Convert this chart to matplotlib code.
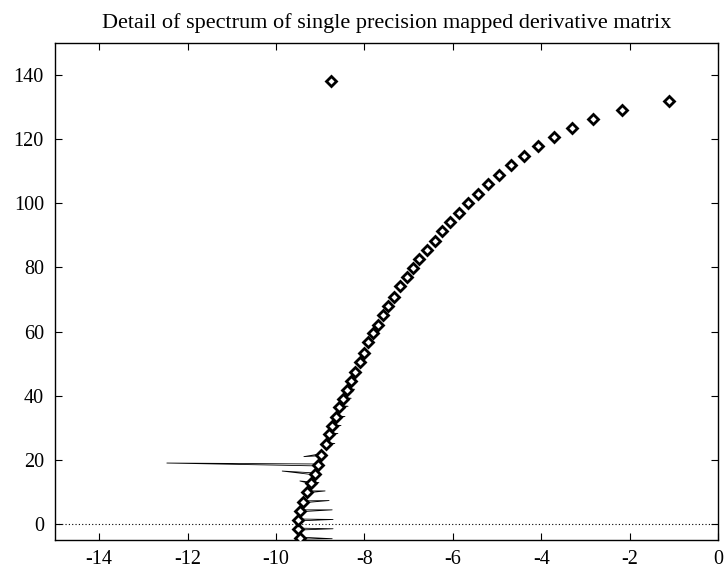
import numpy as np
import matplotlib
matplotlib.use("Agg")
import matplotlib.pyplot as plt

# --- DATA ---
# eigenvalues, sorted by imaginary part
eig_re = [-9.46, -9.50, -9.50, -9.46, -9.39, -9.30, -9.21, -9.12, -9.05, -8.98,
          -8.87, -8.80, -8.73, -8.64, -8.57, -8.48, -8.39, -8.30, -8.21, -8.10,
          -8.01, -7.92, -7.81, -7.69, -7.58, -7.47, -7.33, -7.19, -7.04, -6.90,
          -6.76, -6.58, -6.40, -6.24, -6.06, -5.86, -5.66, -5.43, -5.20, -4.95,
          -4.68, -4.39, -4.07, -3.71, -3.30, -2.83, -2.17, -1.10]
eig_im = [-4.4, -1.6, 1.25, 4.1, 6.9, 10.0, 12.8, 15.6, 18.4, 21.6,
          25.0, 28.1, 30.6, 33.4, 36.6, 39.1, 41.9, 44.7, 47.5, 50.6,
          53.4, 56.6, 59.4, 62.2, 65.3, 68.1, 70.9, 74.1, 76.9, 79.7,
          82.5, 85.3, 88.1, 91.3, 94.1, 96.9, 100.0, 102.8, 105.9, 108.8,
          111.9, 114.7, 117.8, 120.6, 123.4, 126.3, 129.1, 131.9]

# the stray eigenvalue at the top
outlier_re = [-8.76]
outlier_im = [138.1]

# thin spikes leaving the lower eigenvalues: index of the eigenvalue and tip
tine_k = [0, 1, 2, 3, 4, 5, 6, 6, 7, 8, 9, 10, 11, 12, 13, 14, 15, 16]
tine_tip_re = [-8.73, -8.71, -8.71, -8.73, -8.80, -8.89, -9.03, -9.46, -9.86,
               -12.47, -9.37, -8.67, -8.60, -8.53, -8.44, -8.37, -8.30, -8.22]
tine_tip_im = [-4.6, -1.5, 1.4, 4.4, 7.3, 10.3, 12.9, 13.4, 16.5,
               19.0, 21.0, 25.1, 28.2, 30.7, 33.5, 36.7, 39.2, 42.0]

x_ticks = [-14, -12, -10, -8, -6, -4, -2, 0]
y_ticks = [0, 20, 40, 60, 80, 100, 120, 140]
TITLE = "Detail of spectrum of single precision mapped derivative matrix"


def make_plot():
    plt.rcParams['font.family'] = ['Liberation Serif', 'DejaVu Serif']
    plt.rcParams['axes.unicode_minus'] = False

    fig = plt.figure(figsize=(7.25, 5.73), dpi=100)
    ax = fig.add_axes([0.0759, 0.0576, 0.9145, 0.8674])

    # spikes: each one is a very thin triangle from the eigenvalue to its tip
    half = 0.3
    sx, sy = [], []
    for k, tx, ty in zip(tine_k, tine_tip_re, tine_tip_im):
        bx, by = eig_re[k], eig_im[k]
        sx += [bx, tx, bx, np.nan]
        sy += [by - half, ty, by + half, np.nan]
    ax.plot(sx, sy, color='black', lw=0.6, zorder=2)

    # dotted zero line
    ax.axhline(0, color='black', lw=0.8, linestyle=(0, (1, 2)), zorder=1)

    ax.plot(eig_re, eig_im, linestyle='none', marker='D', ms=5.4,
            mfc='white', mec='black', mew=2.0, zorder=3)
    ax.plot(outlier_re, outlier_im, linestyle='none', marker='D', ms=5.4,
            mfc='white', mec='black', mew=2.0, zorder=3)

    ax.set_xlim(-15, 0)
    ax.set_ylim(-5, 150)
    ax.set_xticks(x_ticks)
    ax.set_yticks(y_ticks)
    ax.tick_params(direction='in', length=5, width=0.8, top=True, right=True,
                   labelsize=14.5)
    ax.tick_params(axis='y', pad=8)
    ax.tick_params(axis='x', pad=7)
    for s in ax.spines.values():
        s.set_linewidth(1.0)

    ax.set_title(TITLE, fontsize=16, pad=11)
    fig.savefig("out.png", dpi=100)


if __name__ == "__main__":
    make_plot()
